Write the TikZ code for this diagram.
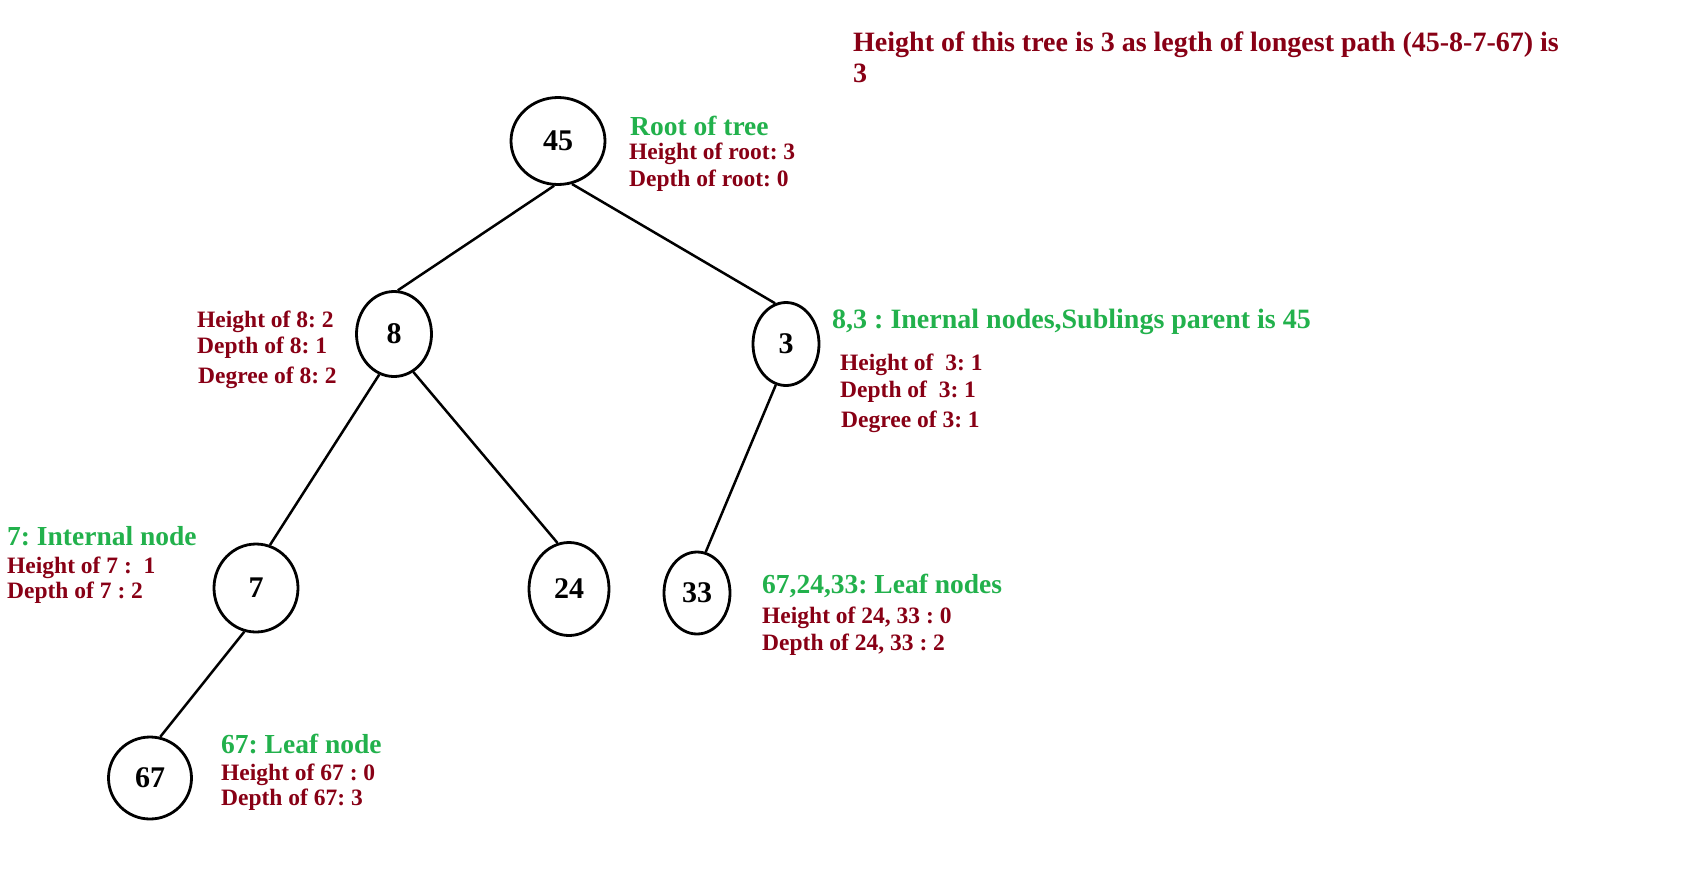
\documentclass[tikz,border=0pt]{standalone}
\usepackage{fontspec}
\setmainfont{Liberation Serif}
\usetikzlibrary{shapes.geometric}

\definecolor{infored}{RGB}{136,0,21}
\definecolor{infogreen}{RGB}{34,177,76}

\tikzset{
  treenode/.style={draw, ellipse, line width=2.8pt, inner sep=0pt,
    font=\fontsize{30}{32}\selectfont\bfseries},
  treeline/.style={line width=2.5pt},
  greentext/.style={text=infogreen, anchor=base west, inner sep=0pt,
    font=\fontsize{27.5}{31}\selectfont\bfseries},
  redtext/.style={text=infored, anchor=base west, inner sep=0pt,
    font=\fontsize{23.5}{26}\selectfont\bfseries},
  titletext/.style={text=infored, anchor=base west, inner sep=0pt,
    font=\fontsize{28}{32}\selectfont\bfseries}
}

\begin{document}
\frenchspacing
\begin{tikzpicture}[x=1pt, y=-1pt]

% Canvas
\useasboundingbox (0,0) rectangle (1698,876);

% Tree nodes
\node[treenode, minimum width=94, minimum height=87] (n45) at (558,141) {45};
\node[treenode, minimum width=75, minimum height=85] (n8) at (394,334) {8};
\node[treenode, minimum width=66, minimum height=83] (n3) at (786,344) {3};
\node[treenode, minimum width=84, minimum height=88] (n7) at (256,588) {7};
\node[treenode, minimum width=80, minimum height=93] (n24) at (569,589) {24};
\node[treenode, minimum width=66, minimum height=82] (n33) at (697,593) {33};
\node[treenode, minimum width=83, minimum height=82] (n67) at (150,778) {67};

% Branches
\draw[treeline] (n45.-95) -- (n8.85);
\draw[treeline] (n45.-72) -- (n3.105);
\draw[treeline] (n8.-110) -- (n7.72);
\draw[treeline] (n8.-63) -- (n24.104);
\draw[treeline] (n3.-104) -- (n33.78);
\draw[treeline] (n7.-105) -- (n67.76);

% Height of the tree
\node[titletext] (title1) at (853,51) {Height of this tree is 3 as legth of longest path (45-8-7-67) is};
\node[titletext] (title2) at (853,82) {3};

% Root
\node[greentext] (root1) at (630,135) {Root of tree};
\node[redtext] (root2) at (629,159) {Height of root: 3};
\node[redtext] (root3) at (629,186) {Depth of root: 0};

% Node 8
\node[redtext] (eight1) at (197,327) {Height of 8: 2};
\node[redtext] (eight2) at (197,353) {Depth of 8: 1};
\node[redtext] (eight3) at (198,383) {Degree of 8: 2};

% Node 3
\node[greentext, font=\fontsize{28}{31}\selectfont\bfseries] (three1) at (832,328) {8,3 : Inernal nodes,Sublings parent is 45};
\node[redtext] (three2) at (840,370) {Height of~\ 3: 1};
\node[redtext] (three3) at (840,397) {Depth of~\ 3: 1};
\node[redtext] (three4) at (841,427) {Degree of 3: 1};

% Node 7
\node[greentext] (seven1) at (7,545) {7: Internal node};
\node[redtext] (seven2) at (7,573) {Height of 7 :~\ 1};
\node[redtext] (seven3) at (7,598) {Depth of 7 : 2};

% Leaves 24, 33
\node[greentext] (leaf1) at (762,593) {67,24,33: Leaf nodes};
\node[redtext] (leaf2) at (762,623) {Height of 24, 33 : 0};
\node[redtext] (leaf3) at (762,650) {Depth of 24, 33 : 2};

% Leaf 67
\node[greentext] (last1) at (221,753) {67: Leaf node};
\node[redtext] (last2) at (221,780) {Height of 67 : 0};
\node[redtext] (last3) at (221,805) {Depth of 67: 3};

\end{tikzpicture}
\end{document}
